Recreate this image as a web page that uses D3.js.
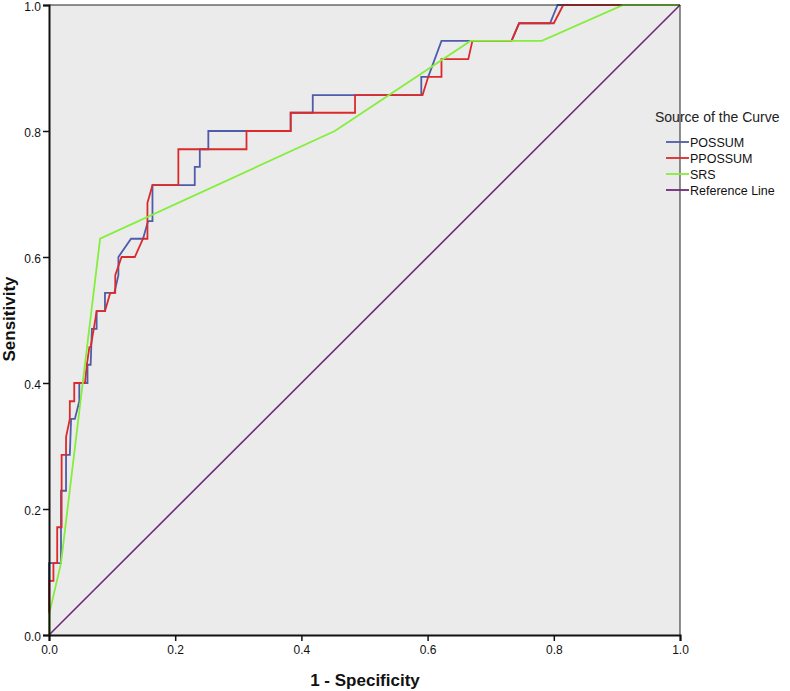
<!DOCTYPE html>
<html><head><meta charset="utf-8">
<script src="https://cdn.jsdelivr.net/npm/d3@7"></script>
<style>body{margin:0;background:#fff;} text{font-family:"Liberation Sans",Arial,sans-serif;}</style>
</head><body><svg id="c" width="790" height="691"></svg>
<script>
const ticks = [0, 0.2, 0.4, 0.6, 0.8, 1.0];
const seriesNames = ["POSSUM", "PPOSSUM", "SRS", "Reference Line"];
const seriesColors = ["#4f5bab", "#dc2a2a", "#85ee3c", "#6c2b78"];
// [1 - Specificity, Sensitivity]
const possum = [[0,0],[0,0.114],[0.019,0.114],[0.019,0.229],[0.027,0.229],[0.027,0.286],[0.033,0.286],[0.035,0.343],[0.041,0.343],[0.048,0.371],[0.048,0.4],[0.061,0.4],[0.061,0.429],[0.066,0.429],[0.068,0.486],[0.0755,0.486],[0.0755,0.514],[0.0887,0.514],[0.0887,0.543],[0.1035,0.543],[0.110,0.571],[0.110,0.6],[0.130,0.629],[0.149,0.629],[0.157,0.657],[0.164,0.657],[0.164,0.714],[0.231,0.714],[0.231,0.743],[0.239,0.743],[0.239,0.771],[0.2525,0.771],[0.2525,0.8],[0.383,0.8],[0.383,0.829],[0.418,0.829],[0.418,0.857],[0.590,0.857],[0.590,0.886],[0.601,0.886],[0.622,0.943],[0.733,0.943],[0.745,0.971],[0.794,0.971],[0.806,1],[1,1]];
const ppossum = [[0,0],[0,0.086],[0.007,0.086],[0.007,0.114],[0.013,0.114],[0.013,0.171],[0.020,0.171],[0.020,0.286],[0.027,0.286],[0.027,0.314],[0.033,0.343],[0.033,0.371],[0.040,0.371],[0.040,0.4],[0.057,0.4],[0.060,0.429],[0.064,0.457],[0.066,0.457],[0.071,0.486],[0.0755,0.514],[0.0887,0.514],[0.097,0.543],[0.105,0.543],[0.105,0.571],[0.115,0.6],[0.136,0.6],[0.149,0.629],[0.156,0.629],[0.156,0.686],[0.164,0.714],[0.205,0.714],[0.205,0.771],[0.313,0.771],[0.313,0.8],[0.383,0.8],[0.383,0.829],[0.485,0.829],[0.485,0.857],[0.592,0.857],[0.601,0.886],[0.622,0.886],[0.622,0.914],[0.6645,0.914],[0.671,0.943],[0.733,0.943],[0.745,0.971],[0.800,0.971],[0.815,1],[1,1]];
const srs = [[0,0],[0,0.032],[0.019,0.114],[0.081,0.629],[0.453,0.8],[0.668,0.943],[0.781,0.943],[0.91,1],[1,1]];
const refLine = [[0,0],[1,1]];

const svg = d3.select("#c");
const L = 49, R = 680, T = 5, B = 635;
const x = d3.scaleLinear().domain([0,1]).range([L,R]);
const y = d3.scaleLinear().domain([0,1]).range([B,T]);

svg.append("rect").attr("x",L).attr("y",T).attr("width",R-L).attr("height",B-T).attr("fill","#ebebeb");

const line = d3.line().x(d=>x(d[0])).y(d=>y(d[1]));
[possum, ppossum, srs, refLine].forEach((s,i)=>{
  svg.append("path").datum(s).attr("d",line).attr("fill","none")
    .attr("stroke",seriesColors[i]).attr("stroke-width",i===3?1.6:1.8).attr("stroke-linejoin","miter");
});

// border
svg.append("line").attr("x1",L).attr("x2",R).attr("y1",T).attr("y2",T).attr("stroke","#222").attr("stroke-width",1);
svg.append("line").attr("x1",R).attr("x2",R).attr("y1",T).attr("y2",B).attr("stroke","#222").attr("stroke-width",1);

const fmt = d3.format(".1f");
const gx = svg.append("g").attr("transform",`translate(0,${B})`)
  .call(d3.axisBottom(x).tickValues(ticks).tickFormat(fmt).tickSize(6).tickPadding(4));
const gy = svg.append("g").attr("transform",`translate(${L},0)`)
  .call(d3.axisLeft(y).tickValues(ticks).tickFormat(fmt).tickSize(6).tickPadding(2));
[gx,gy].forEach(g=>{
  g.select(".domain").attr("stroke","#111").attr("stroke-width",2);
  g.selectAll(".tick line").attr("stroke","#111").attr("stroke-width",1.5);
  g.selectAll(".tick text").attr("fill","#111").style("font-size","12px").style("font-family","'Liberation Sans',Arial,sans-serif");
});
gy.selectAll(".tick text").attr("dy","0.42em");

svg.append("text").attr("x",365).attr("y",686).attr("text-anchor","middle")
  .style("font-size","17px").style("font-weight","bold").attr("fill","#111").text("1 - Specificity");
svg.append("text").attr("transform","translate(15,319) rotate(-90)").attr("text-anchor","middle")
  .style("font-size","17px").style("font-weight","bold").attr("fill","#111").text("Sensitivity");

// legend
svg.append("text").attr("x",655).attr("y",122).style("font-size","14px").attr("fill","#222").text("Source of the Curve");
seriesNames.forEach((n,i)=>{
  const yy = 142 + i*16;
  svg.append("line").attr("x1",666).attr("x2",689).attr("y1",yy).attr("y2",yy).attr("stroke",seriesColors[i]).attr("stroke-width",1.8);
  svg.append("text").attr("x",690).attr("y",yy+4.5).style("font-size","12.5px").attr("fill","#111").text(n);
});
</script></body></html>
